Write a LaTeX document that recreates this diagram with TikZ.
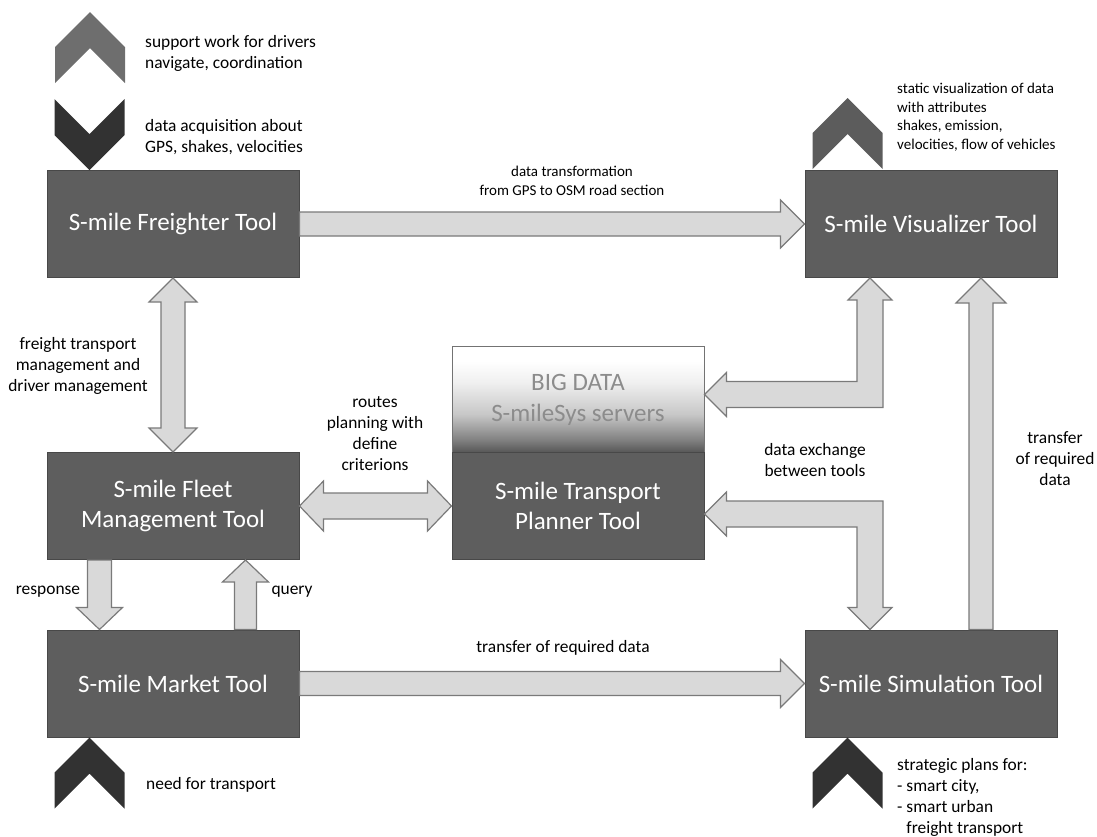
\documentclass[tikz,border=0pt]{standalone}
\usepackage{fontspec}
\setmainfont{Carlito}
\usetikzlibrary{calc}
\definecolor{boxgray}{HTML}{5E5E5E}
\definecolor{boxline}{HTML}{484848}
\definecolor{arrowfill}{HTML}{D9D9D9}
\definecolor{arrowline}{HTML}{7A7A7A}
\definecolor{chevmid}{HTML}{6E6E6E}
\definecolor{chevvis}{HTML}{5C5C5C}
\definecolor{chevdark}{HTML}{323232}
\definecolor{bigtext}{HTML}{8C8C8C}
\pgfdeclareverticalshading{bigdatashade}{100bp}{rgb(0bp)=(.33,.33,.33); rgb(25bp)=(.33,.33,.33); rgb(31bp)=(.5,.5,.5); rgb(43bp)=(.78,.78,.78); rgb(58bp)=(.94,.94,.94); rgb(68bp)=(1,1,1); rgb(100bp)=(1,1,1)}
\tikzset{
  box/.style={draw=boxline, fill=boxgray, line width=1pt, minimum width=252pt, minimum height=107pt,
    inner sep=0pt, text=white, align=center, font=\fontsize{25}{29.5}\selectfont},
  fat/.style={fill=arrowfill, draw=arrowline, line width=1.2pt, line join=miter},
  lbl/.style={inner sep=0pt, align=center, font=\fontsize{17.4}{21}\selectfont},
  lblsmall/.style={inner sep=0pt, align=center, font=\fontsize{15}{18.5}\selectfont},
  chevup/.pic={\fill (0,0) -- (35,35) -- (35,71) -- (0,36) -- (-35,71) -- (-35,35) -- cycle;},
  chevdown/.pic={\fill (0,0) -- (35,-35) -- (35,-71) -- (0,-36) -- (-35,-71) -- (-35,-35) -- cycle;}
}
\begin{document}
\begin{tikzpicture}[x=1pt, y=-1pt]
  \useasboundingbox (0,0) rectangle (1097,836);
  % tools
  \node[box] (fre) at (173,224) {S-mile Freighter Tool};
  \node[box] (vis) at (931,224) {S-mile Visualizer Tool};
  \node[box, shade, shading=bigdatashade, draw=black!55, text=bigtext, font=\fontsize{25}{31}\selectfont] (big) at (578,399.5) {BIG DATA\\S-mileSys servers};
  \node[box] (plan) at (578,506) {S-mile Transport\\Planner Tool};
  \node[box] (fleet) at (173,506) {S-mile Fleet\\Management Tool};
  \node[box] (mkt) at (173,683.5) {S-mile Market Tool};
  \node[box] (sim) at (931,683.5) {S-mile Simulation Tool};
  % chevrons
  \pic[chevmid] at (90,12) {chevup};
  \pic[chevdark] at ($(fre.north west)+(43,0)$) {chevdown};
  \pic[chevvis] at ($(vis.north west)+(43,-72)$) {chevup};
  \pic[chevdark] at ($(mkt.south west)+(43,0)$) {chevup};
  \pic[chevdark] at ($(sim.south west)+(43,0)$) {chevup};
  % straight block arrows
  \draw[fat] ($(fre.east)+(0,-12)$) -- ($(vis.west)+(-24,-12)$) -- ++(0,-12) -- (vis.west) -- ++(-24,24) -- ++(0,-12) -- ($(fre.east)+(0,12)$) -- cycle;
  \draw[fat] ($(mkt.east)+(0,-12)$) -- ($(sim.west)+(-24,-12)$) -- ++(0,-12) -- (sim.west) -- ++(-24,24) -- ++(0,-12) -- ($(mkt.east)+(0,12)$) -- cycle;
  \draw[fat] (fre.south) -- ++(24,24) -- ++(-12,0) -- ($(fleet.north)+(12,-24)$) -- ++(12,0) -- (fleet.north) -- ++(-24,-24) -- ++(12,0) -- ($(fre.south)+(-12,24)$) -- ++(-12,0) -- cycle;
  \draw[fat] (fleet.east) -- ++(24,-25) -- ++(0,12) -- ($(plan.west)+(-24,-13)$) -- ++(0,-12) -- (plan.west) -- ++(-24,25) -- ++(0,-12) -- ($(fleet.east)+(24,13)$) -- ++(0,12) -- cycle;
  \coordinate (r1) at ($(fleet.south west)+(53,0)$);
  \coordinate (r2) at ($(mkt.north west)+(53,0)$);
  \draw[fat] ($(r1)+(-12,0)$) -- ($(r2)+(-12,-22)$) -- ++(-11,0) -- (r2) -- ++(23,-22) -- ++(-11,0) -- ($(r1)+(12,0)$) -- cycle;
  \coordinate (q1) at ($(mkt.north east)+(-54,0)$);
  \coordinate (q2) at ($(fleet.south east)+(-54,0)$);
  \draw[fat] ($(q1)+(-11,0)$) -- ($(q2)+(-11,22)$) -- ++(-12,0) -- (q2) -- ++(23,22) -- ++(-12,0) -- ($(q1)+(11,0)$) -- cycle;
  \coordinate (u1) at ($(sim.north)+(50,0)$);
  \coordinate (u2) at ($(vis.south)+(50,0)$);
  \draw[fat] ($(u1)+(-12,0)$) -- ($(u2)+(-12,25)$) -- ++(-13,0) -- (u2) -- ++(25,25) -- ++(-13,0) -- ($(u1)+(12,0)$) -- cycle;
  % elbow arrows
  \coordinate (e1) at ($(vis.south)+(-61,0)$);
  \coordinate (e2) at ($(big.east)+(0,-5)$);
  \coordinate (c1) at (e1 |- e2);
  \draw[fat] (e1) -- ++(22,22) -- ++(-9,0) -- ($(c1)+(13,13)$) -- ($(e2)+(22,13)$) -- ++(0,9) -- (e2) -- ++(22,-22) -- ++(0,9) -- ($(c1)+(-13,-13)$) -- ($(e1)+(-13,22)$) -- ++(-9,0) -- cycle;
  \coordinate (f1) at ($(plan.east)+(0,8)$);
  \coordinate (f2) at ($(sim.north)+(-61,0)$);
  \coordinate (c2) at (f2 |- f1);
  \draw[fat] (f1) -- ++(22,-22) -- ++(0,9) -- ($(c2)+(13,-13)$) -- ($(f2)+(13,-22)$) -- ++(9,0) -- (f2) -- ++(-22,-22) -- ++(9,0) -- ($(c2)+(-13,13)$) -- ($(f1)+(22,13)$) -- ++(0,9) -- cycle;
  % labels
  \node[lbl, anchor=west, align=left] (tsup) at (145,53) {support work for drivers\\navigate, coordination};
  \node[lbl, anchor=west, align=left] (tacq) at (145,137) {data acquisition about\\GPS, shakes, velocities};
  \node[lblsmall, anchor=west, align=left] (tstat) at (897,117) {static visualization of data\\with attributes\\shakes, emission,\\velocities, flow of vehicles};
  \node[lblsmall] (ttrans) at (572,181) {data transformation\\from GPS to OSM road section};
  \node[lbl] (tfreight) at (78,366) {freight transport\\management and\\driver management};
  \node[lbl] (troutes) at (375,434) {routes\\planning with\\define\\criterions};
  \node[lbl] (texch) at (815,460) {data exchange\\between tools};
  \node[lbl] (treq) at (1055,459) {transfer\\of required\\data};
  \node[lbl] (tmkt) at (563,648) {transfer of required data};
  \node[lbl] (tresp) at (48,592) {response};
  \node[lbl] (tquery) at (292,592) {query};
  \node[lbl, anchor=west] (tneed) at (146,785) {need for transport};
  \node[lbl, anchor=west, align=left] (tstrat) at (897,797) {strategic plans for:\\- smart city,\\- smart urban\\\phantom{- }freight transport};
\end{tikzpicture}
\end{document}
